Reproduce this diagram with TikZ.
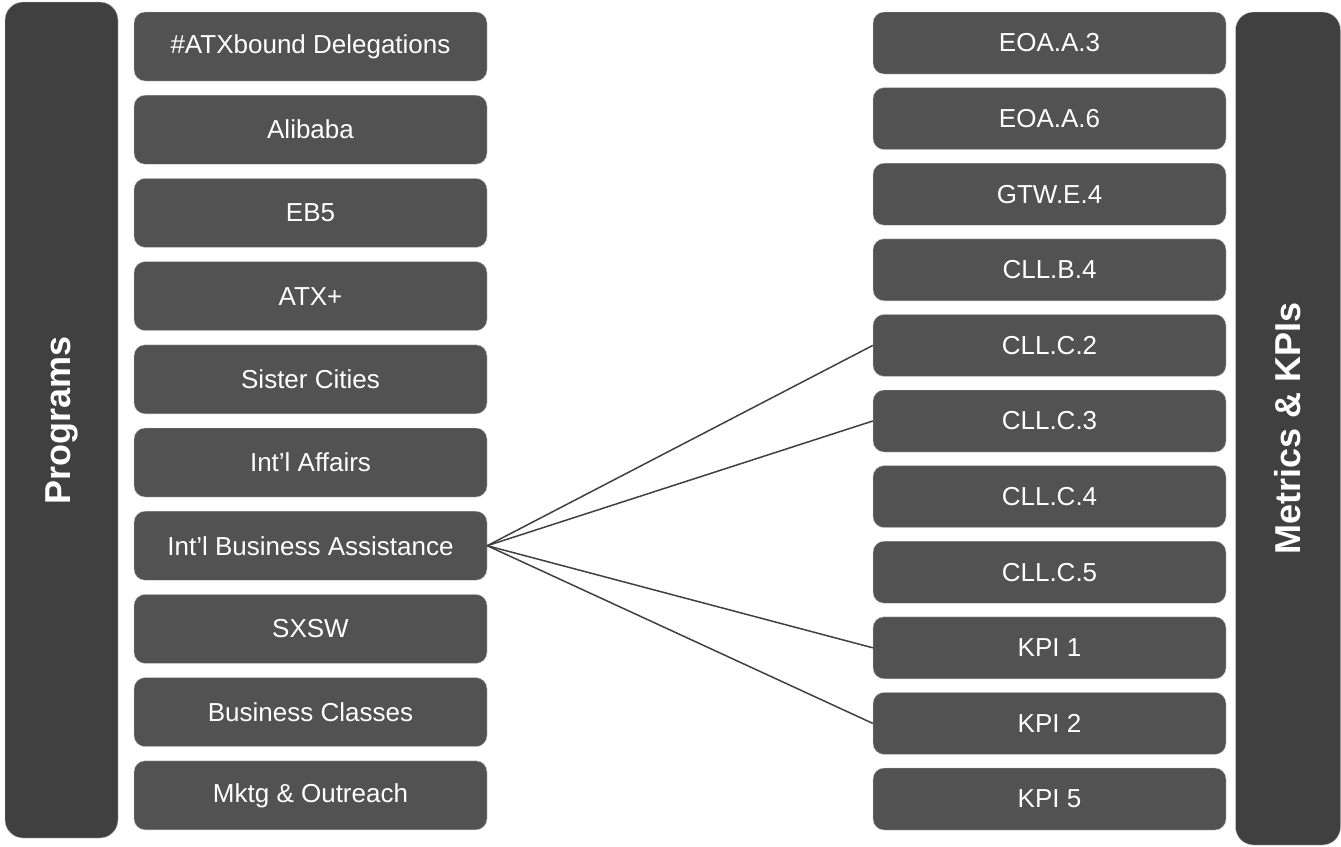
\documentclass[tikz,border=0pt]{standalone}
\usepackage{fontspec}
\setmainfont{Liberation Sans}
\definecolor{barc}{HTML}{404040}
\definecolor{boxc}{HTML}{525252}
\definecolor{edgec}{HTML}{C8C8C8}
\definecolor{linec}{HTML}{404040}
\begin{document}
\begin{tikzpicture}[x=1pt,y=-1pt,
  bar/.style={fill=barc, draw=edgec, line width=0.4pt, rounded corners=18pt, text=white,
    font=\fontsize{36}{40}\selectfont\bfseries, rotate=90, inner sep=0pt},
  box/.style={fill=boxc, draw=edgec, line width=0.4pt, rounded corners=11pt, text=white,
    font=\fontsize{26}{30}\selectfont, minimum width=353pt, inner sep=0pt},
  prog/.style={box, minimum height=69pt},
  met/.style={box, minimum height=62pt},
  link/.style={draw=linec, line width=1.5pt}]
\useasboundingbox (0,0) rectangle (1341,846);
\node[bar, minimum width=836pt, minimum height=113pt] (programs) at (61.5,420) {Programs};
\node[bar, minimum width=833pt, minimum height=105pt] (metrics) at (1288,428.5) {Metrics \& KPIs};
\foreach \t [count=\i from 0] in {\#ATXbound Delegations, Alibaba, EB5, ATX+, Sister Cities, Int’l Affairs, Int’l Business Assistance, SXSW, Business Classes, Mktg \& Outreach}
  \node[prog] (p\i) at (310.5, 46.5+83.2*\i) {\t};
\foreach \t [count=\j from 0] in {EOA.A.3, EOA.A.6, GTW.E.4, CLL.B.4, CLL.C.2, CLL.C.3, CLL.C.4, CLL.C.5, KPI 1, KPI 2, KPI 5}
  \node[met] (m\j) at (1049.5, 43+75.6*\j) {\t};
\foreach \j in {4,5,8,9}
  \draw[link] (p6.east) -- (m\j.west);
\end{tikzpicture}
\end{document}
